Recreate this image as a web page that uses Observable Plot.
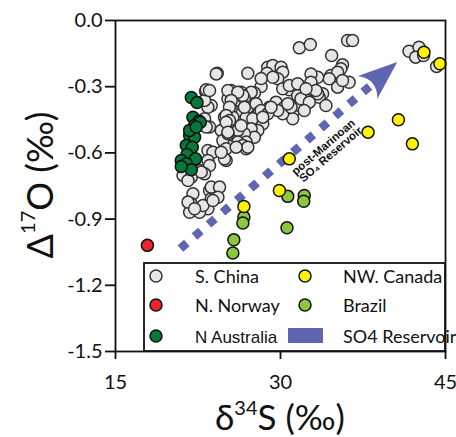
<!DOCTYPE html>
<html><head><meta charset="utf-8">
<script src="https://cdn.jsdelivr.net/npm/d3@7"></script>
<script src="https://cdn.jsdelivr.net/npm/@observablehq/plot@0.6"></script>
<style>body{margin:0;background:#fff}#chart{position:relative;width:456px;height:437px}</style>
</head><body><div id="chart"></div>
<script>
// S. China (grey)
const chinaX = [31.71,32.71,36.10,36.55,41.68,42.59,42.29,43.01,44.19,34.65,35.64,35.49,34.58,35.19,34.43,33.38,32.77,32.77,35.19,36.24,35.64,33.83,33.52,34.13,24.25,27.03,28.84,29.30,30.05,30.20,28.78,29.75,29.30,31.71,30.80,31.56,32.47,33.38,33.22,28.24,27.63,27.33,26.42,25.82,25.52,28.99,29.60,30.35,30.66,31.26,31.11,30.20,29.75,31.71,26.12,26.72,27.03,27.78,28.08,26.12,25.52,26.42,26.88,27.48,28.39,27.94,27.33,27.63,26.72,26.12,26.88,26.12,26.58,26.88,31.86,32.62,32.16,30.96,23.19,23.70,23.40,23.10,23.55,23.40,23.86,23.40,23.55,22.64,23.10,21.14,21.89,25.06,24.91,25.22,25.22,26.58,25.52,26.72,24.91,25.67,25.06,24.61,22.04,21.89,21.74,23.55,23.70,23.40,24.16,22.64,22.95,21.59,22.19,23.70,24.46,24.31,21.59,22.80,23.25,23.10,24.76,25.22,26.42,27.03,25.06,23.86,23.25,23.55,25.22,26.12,25.52,25.36,25.06,25.36,25.06,25.22,24.91,24.16,28.24,30.20,30.80,31.56,32.32,28.24,28.84,29.14,30.66,28.39,25.97,24.61];
const chinaY = [-0.124,-0.109,-0.091,-0.091,-0.139,-0.121,-0.166,-0.159,-0.208,-0.159,-0.201,-0.219,-0.249,-0.234,-0.264,-0.257,-0.242,-0.280,-0.302,-0.280,-0.272,-0.332,-0.348,-0.385,-0.239,-0.239,-0.212,-0.204,-0.212,-0.234,-0.239,-0.264,-0.257,-0.295,-0.314,-0.340,-0.362,-0.332,-0.317,-0.299,-0.329,-0.325,-0.325,-0.332,-0.317,-0.393,-0.370,-0.393,-0.408,-0.408,-0.445,-0.423,-0.408,-0.385,-0.370,-0.355,-0.393,-0.377,-0.415,-0.415,-0.438,-0.461,-0.441,-0.445,-0.468,-0.498,-0.491,-0.529,-0.513,-0.498,-0.551,-0.551,-0.566,-0.581,-0.355,-0.370,-0.408,-0.393,-0.320,-0.385,-0.393,-0.445,-0.483,-0.589,-0.597,-0.634,-0.657,-0.680,-0.695,-0.702,-0.710,-0.634,-0.551,-0.566,-0.355,-0.340,-0.400,-0.393,-0.438,-0.438,-0.498,-0.498,-0.785,-0.831,-0.869,-0.770,-0.808,-0.853,-0.793,-0.869,-0.838,-0.823,-0.853,-0.755,-0.755,-0.801,-0.725,-0.687,-0.483,-0.362,-0.544,-0.513,-0.476,-0.574,-0.581,-0.816,-0.314,-0.317,-0.317,-0.325,-0.362,-0.393,-0.430,-0.453,-0.461,-0.506,-0.627,-0.242,-0.263,-0.309,-0.295,-0.287,-0.309,-0.408,-0.423,-0.393,-0.377,-0.438,-0.574,-0.597];
// N. Norway (red)
const norwayX = [17.90];
const norwayY = [-1.019];
// N Australia (dark green)
const australiaX = [21.89,22.41,22.04,22.59,22.19,22.71,21.74,22.19,21.44,21.98,21.50,20.98,22.28,21.44,21.89,20.98,21.74,22.34];
const australiaY = [-0.349,-0.372,-0.438,-0.456,-0.476,-0.461,-0.521,-0.529,-0.566,-0.574,-0.607,-0.634,-0.627,-0.649,-0.676,-0.662,-0.498,-0.483];
// Brazil (light green)
const brazilX = [30.66,32.16,32.11,26.67,26.58,30.59,25.76,25.67];
const brazilY = [-0.797,-0.793,-0.819,-0.891,-0.918,-0.939,-0.994,-1.054];
// NW. Canada (yellow)
const canadaX = [30.80,29.90,26.67,43.04,44.49,40.72,37.96,41.99];
const canadaY = [-0.627,-0.770,-0.843,-0.144,-0.196,-0.450,-0.506,-0.559];
// SO4 reservoir arrow (data units)
const arrowX = [20.9, 40.66];
const arrowY = [-1.033, -0.19];
const annotLines = ["post-Marinoan", "SO\u2084 Reservoir"];
const annotX = [33.90, 34.58];
const annotY = [-0.574, -0.607];
const xTicks = [15, 30, 45];
const yTicks = [0, -0.3, -0.6, -0.9, -1.2, -1.5];
const legendLabels = ["S. China", "N. Norway", "N Australia", "NW. Canada", "Brazil", "SO4 Reservoir"];
const colors = {china:"#e6e6e6", norway:"#e8262b", australia:"#08773c", canada:"#fff200", brazil:"#8dc63f", arrow:"#5f66b0"};

const pts = (xs, ys) => xs.map((x, i) => ({x, y: ys[i]}));
const china = pts(chinaX, chinaY), norway = pts(norwayX, norwayY), australia = pts(australiaX, australiaY),
      brazil = pts(brazilX, brazilY), canada = pts(canadaX, canadaY);
const frac = 0.875;
const shaft = [{x1: arrowX[0], y1: arrowY[0], x2: arrowX[0] + frac*(arrowX[1]-arrowX[0]), y2: arrowY[0] + frac*(arrowY[1]-arrowY[0])}];
const annot = annotLines.map((t, i) => ({text: t, x: annotX[i], y: annotY[i]}));

const dotOpts = (fill, stroke) => ({x: "x", y: "y", r: 6, fill, stroke, strokeWidth: 1.5});

const plot = Plot.plot({
  width: 456, height: 437,
  marginTop: 20, marginBottom: 86, marginLeft: 115, marginRight: 11,
  style: {fontFamily: "Lato, sans-serif", fontSize: "20px", color: "#111", background: "white"},
  x: {domain: [15, 45]},
  y: {domain: [-1.5, 0]},
  marks: [
    Plot.axisX({ticks: xTicks, tickFormat: d => String(d), tickSize: 8, tickPadding: 15, strokeWidth: 1.8, label: null, fontSize: 20}),
    Plot.axisY({ticks: yTicks, tickFormat: d => d.toFixed(1), tickSize: 10, tickPadding: 3, strokeWidth: 1.8, label: null, fontSize: 20}),
    Plot.link(shaft, {x1: "x1", y1: "y1", x2: "x2", y2: "y2", stroke: colors.arrow, strokeWidth: 8.5, strokeDasharray: "8.5,10"}),
    Plot.dot(china, dotOpts(colors.china, "#333")),
    Plot.dot(australia, dotOpts(colors.australia, "#111")),
    Plot.dot(brazil, dotOpts(colors.brazil, "#111")),
    Plot.dot(canada, dotOpts(colors.canada, "#111")),
    Plot.dot(norway, dotOpts(colors.norway, "#111")),
    Plot.text(annot, {x: "x", y: "y", text: "text", rotate: -40.6, fontWeight: "bold", fontSize: 11.5, fontFamily: "Liberation Sans, sans-serif", fill: "#111"}),
    Plot.frame({stroke: "#111", strokeWidth: 1.8})
  ]
});
document.getElementById("chart").appendChild(plot);

const svg = d3.select(plot);
const sx = plot.scale("x").apply, sy = plot.scale("y").apply;
// arrow head
{
  const x0 = sx(arrowX[0]), y0 = sy(arrowY[0]), x1 = sx(arrowX[1]), y1 = sy(arrowY[1]);
  const L = Math.hypot(x1-x0, y1-y0), ux = (x1-x0)/L, uy = (y1-y0)/L, vx = -uy, vy = ux;
  const back = 39, half = 15, ctrl = 26;
  const c1 = [x1 - back*ux + half*vx, y1 - back*uy + half*vy];
  const c2 = [x1 - back*ux - half*vx, y1 - back*uy - half*vy];
  const cc = [x1 - ctrl*ux, y1 - ctrl*uy];
  svg.append("path").attr("d", `M${x1},${y1}L${c1[0]},${c1[1]}Q${cc[0]},${cc[1]} ${c2[0]},${c2[1]}Z`).attr("fill", colors.arrow);
}
// axis titles
const yt = svg.append("text").attr("transform", "translate(53,185) rotate(-90)").attr("text-anchor", "middle")
  .attr("font-family", "Lato, sans-serif").attr("font-size", 36).attr("fill", "#111");
yt.append("tspan").text("\u0394");
yt.append("tspan").attr("font-size", 20).attr("dy", -18).text("17");
yt.append("tspan").attr("dy", 18).text("O (\u2030)");
const xt = svg.append("text").attr("x", 280).attr("y", 430).attr("text-anchor", "middle")
  .attr("font-family", "Lato, sans-serif").attr("font-size", 35).attr("fill", "#111");
xt.append("tspan").text("\u03b4");
xt.append("tspan").attr("font-size", 20).attr("dy", -15).text("34");
xt.append("tspan").attr("dy", 15).text("S (\u2030)");
// legend
const W = 456, H = 437, mR = 11, mB = 86;
const lg = svg.append("g").attr("text-anchor", "start");
const bx = 144, by = 263, bw = (W - mR) - bx, bh = (H - mB) - by;
lg.append("rect").attr("x", bx).attr("y", by).attr("width", bw).attr("height", bh).attr("fill", "white").attr("stroke", "#111").attr("stroke-width", 1.8);
const items = [
  {label: legendLabels[0], fill: colors.china, stroke: "#333", col: 0, row: 0},
  {label: legendLabels[1], fill: colors.norway, stroke: "#111", col: 0, row: 1},
  {label: legendLabels[2], fill: colors.australia, stroke: "#111", col: 0, row: 2, font: "Liberation Sans, sans-serif", size: 17},
  {label: legendLabels[3], fill: colors.canada, stroke: "#111", col: 1, row: 0},
  {label: legendLabels[4], fill: colors.brazil, stroke: "#111", col: 1, row: 1},
  {label: legendLabels[5], fill: colors.arrow, col: 1, row: 2, rect: true}
];
const rowY = [by + 13, by + 42, by + 73];
const colCx = [bx + 12, bx + 161], colTx = [bx + 51, bx + 199];
items.forEach(it => {
  const cy = rowY[it.row];
  if (it.rect) {
    lg.append("rect").attr("x", colCx[it.col] - 17).attr("y", cy - 8).attr("width", 35).attr("height", 15).attr("fill", it.fill);
  } else {
    lg.append("circle").attr("cx", colCx[it.col]).attr("cy", cy).attr("r", 6).attr("fill", it.fill).attr("stroke", it.stroke).attr("stroke-width", 1.5);
  }
  lg.append("text").attr("x", colTx[it.col]).attr("y", cy + 6.5).attr("text-anchor", "start").attr("font-family", it.font || "Lato, sans-serif")
    .attr("font-size", it.size || 18).attr("fill", "#111").text(it.label);
});
</script>
</body></html>
